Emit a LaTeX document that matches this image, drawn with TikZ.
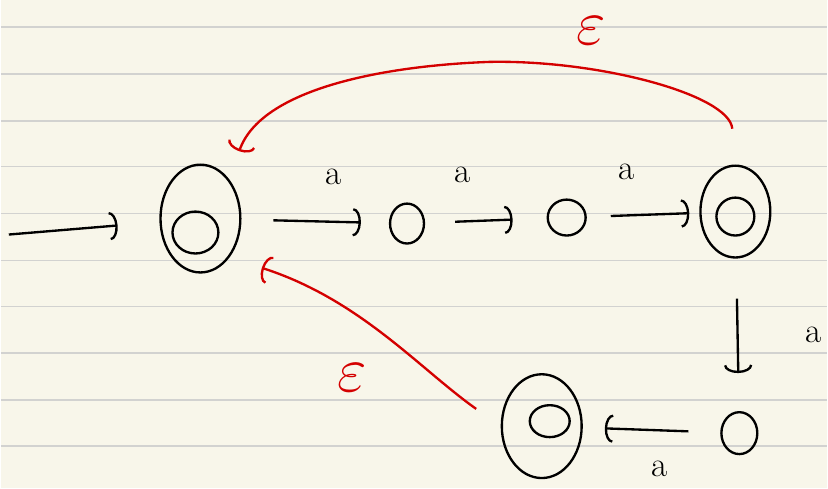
\documentclass[tikz,border=0pt]{standalone}
\usepackage{tikz}
\usetikzlibrary{arrows.meta,shapes.geometric}
\definecolor{paper}{RGB}{248,246,234}
\definecolor{ruled}{RGB}{210,210,208}
\definecolor{inkred}{RGB}{212,0,0}
\tikzset{
  state/.style={ellipse, draw, line width=2pt, inner sep=0pt},
  lbl/.style={font=\fontsize{30}{30}\selectfont, inner sep=0pt},
  epslbl/.style={font=\Huge, scale=2.2, text=inkred, inner sep=0pt},
  arrow/.style={-{Arc Barb[length=2.4mm, width=8.5mm]}, line width=2pt},
  eparrow/.style={-{Arc Barb[length=2.4mm, width=8.5mm]}, line width=2pt, draw=inkred}
}
\begin{document}
\begin{tikzpicture}[x=0.03cm, y=-0.03cm]
  % paper
  \fill[paper] (0,0) rectangle (828,489);
  \foreach \yy in {27,74,121,167,214,261,307,354,401,447}
    \draw[ruled, line width=1.4pt] (0,\yy) -- (828,\yy);
  \useasboundingbox (0,0) rectangle (828,489);

  % states
  \node[state, minimum width=80*0.03cm, minimum height=108*0.03cm] (q0) at (200,219) {};
  \node[state, minimum width=46*0.03cm, minimum height=42*0.03cm] (q0in) at (195,233) {};
  \node[state, minimum width=34*0.03cm, minimum height=40*0.03cm] (q1) at (407,224) {};
  \node[state, minimum width=38*0.03cm, minimum height=36*0.03cm] (q2) at (567,218) {};
  \node[state, minimum width=70*0.03cm, minimum height=92*0.03cm] (q3) at (736,212) {};
  \node[state, minimum width=38*0.03cm, minimum height=38*0.03cm] (q3in) at (736,217) {};
  \node[state, minimum width=36*0.03cm, minimum height=42*0.03cm] (q4) at (740,434) {};
  \node[state, minimum width=80*0.03cm, minimum height=104*0.03cm] (q5) at (542,427) {};
  \node[state, minimum width=40*0.03cm, minimum height=32*0.03cm] (q5in) at (550,422) {};
  \coordinate (start) at (8,235);

  % transitions
  \draw[arrow, shorten >=42*0.03cm] (start) -- (q0);
  \draw[arrow, shorten <=32*0.03cm, shorten >=28*0.03cm] (q0) -- (q1);
  \draw[arrow, shorten <=30*0.03cm, shorten >=34*0.03cm] (q1) -- (q2);
  \draw[arrow, shorten <=24*0.03cm, shorten >=10*0.03cm] (q2) -- (q3);
  \draw[arrow, shorten <=40*0.03cm, shorten >=38*0.03cm] (q3) -- (q4);
  \draw[arrow, shorten <=32*0.03cm, shorten >=22*0.03cm] (q4) -- (q5);
  \node[lbl] (la1) at (333,177) {a};
  \node[lbl] (la2) at (463,175) {a};
  \node[lbl] (la3) at (627,172) {a};
  \node[lbl] (la4) at (814,336) {a};
  \node[lbl] (la5) at (660,470) {a};

  % epsilon moves
  \draw[eparrow, shorten <=36*0.03cm, shorten >=30*0.03cm]
    (q3.north) .. controls (730,95) and (600,60) .. (490,62)
    .. controls (380,66) and (260,90) .. (q0.north east);
  \draw[eparrow, shorten <=30*0.03cm, shorten >=34*0.03cm]
    (q5.west) .. controls (420,370) and (360,300) .. (q0.south east);
  \node[epslbl] (e1) at (592,31) {$\varepsilon$};
  \node[epslbl] (e2) at (352,378) {$\varepsilon$};
\end{tikzpicture}
\end{document}
